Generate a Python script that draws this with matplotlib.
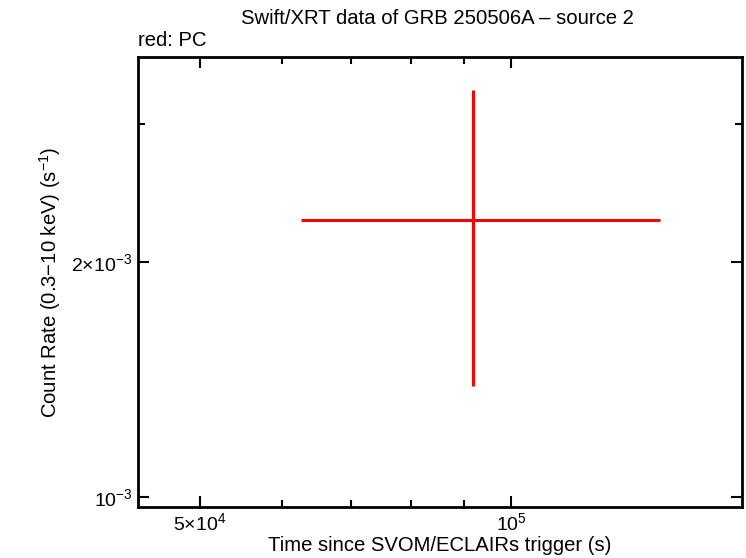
import numpy as np
import matplotlib
matplotlib.use('Agg')
import matplotlib.pyplot as plt
from matplotlib.ticker import FixedLocator, NullFormatter

plt.rcParams['font.family'] = ['Liberation Sans', 'DejaVu Sans']
plt.rcParams['mathtext.fontset'] = 'custom'
plt.rcParams['mathtext.rm'] = 'Liberation Sans'
plt.rcParams['mathtext.it'] = 'Liberation Sans'

# PC data (one bin)
t = [91900.0]
t_lo = [62600.0]
t_hi = [139400.0]
rate = [2.263e-3]
rate_lo = [1.387e-3]
rate_hi = [3.32e-3]

x_ticks = [5e4, 1e5]
x_labels = [r'$5{\times}10^{4}$', r'$10^{5}$']
x_minor = [6e4, 7e4, 8e4, 9e4]
y_ticks = [1e-3, 2e-3]
y_labels = [r'$10^{-3}$', r'$2{\times}10^{-3}$']
y_minor = [3e-3]

t = np.array(t); rate = np.array(rate)
xerr = [t - np.array(t_lo), np.array(t_hi) - t]
yerr = [rate - np.array(rate_lo), np.array(rate_hi) - rate]

fig = plt.figure(figsize=(7.46, 5.58), dpi=100)
ax = fig.add_axes([0.185, 0.0914, 0.8096, 0.8064])
ax.errorbar(t, rate, xerr=xerr, yerr=yerr, fmt='none', ecolor='#ff0000', elinewidth=2.2, capsize=0)

ax.set_xscale('log')
ax.set_yscale('log')
ax.set_xlim(43550, 167300)
ax.set_ylim(0.971e-3, 3.66e-3)

ax.xaxis.set_major_locator(FixedLocator(x_ticks))
ax.set_xticklabels(x_labels)
ax.xaxis.set_minor_locator(FixedLocator(x_minor))
ax.xaxis.set_minor_formatter(NullFormatter())
ax.yaxis.set_major_locator(FixedLocator(y_ticks))
ax.set_yticklabels(y_labels)
ax.yaxis.set_minor_locator(FixedLocator(y_minor))
ax.yaxis.set_minor_formatter(NullFormatter())

ax.tick_params(which='both', direction='in', top=True, right=True, width=1.5, labelsize=14, pad=4)
ax.tick_params(which='major', length=8)
ax.tick_params(which='minor', length=5)
for s in ax.spines.values():
    s.set_linewidth(2)

ax.set_xlabel('Time since SVOM/ECLAIRs trigger (s)', fontsize=14.6, labelpad=1)
ax.set_ylabel(r'Count Rate (0.3$-$10 keV) (s$^{-1}$)', fontsize=14.6, labelpad=6)
fig.text(0.586, 0.967, 'Swift/XRT data of GRB 250506A \u2013 source 2', ha='center', va='center', fontsize=14.6)
fig.text(0.185, 0.928, 'red: PC', ha='left', va='center', fontsize=14.6)

fig.savefig('out.png', dpi=100)
